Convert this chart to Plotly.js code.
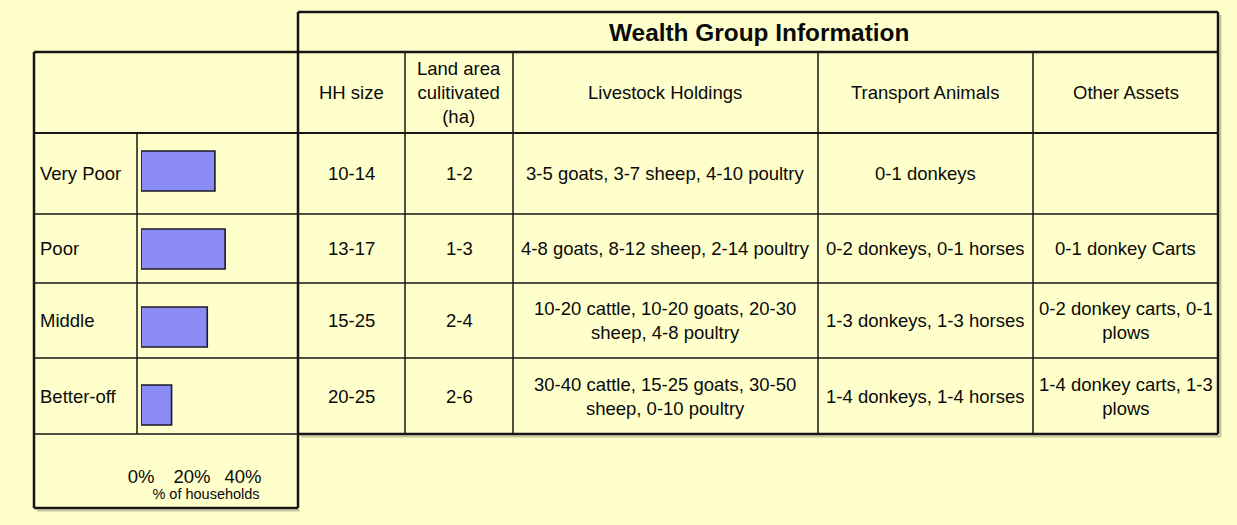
<!DOCTYPE html>
<html>
<head>
<meta charset="utf-8">
<script src="https://cdn.plot.ly/plotly-3.0.1.min.js"></script>
<style>html,body{margin:0;padding:0;background:#FFFFCC;}</style>
</head>
<body>
<div id="chart" style="width:1237px;height:525px;"></div>
<script>
// ---- data ----
const groups = ['Very Poor', 'Poor', 'Middle', 'Better-off'];
const pctHouseholds = [29, 33, 26, 12];
const xTicks = [0, 20, 40];
const xTickText = ['0%', '20%', '40%'];
const tableTitle = 'Wealth Group Information';
const headers = ['HH size', 'Land area<br>culitivated<br>(ha)', 'Livestock Holdings', 'Transport Animals', 'Other Assets'];
const hhSize = ['10-14', '13-17', '15-25', '20-25'];
const landArea = ['1-2', '1-3', '2-4', '2-6'];
const livestock = [
  '3-5 goats, 3-7 sheep, 4-10 poultry',
  '4-8 goats, 8-12 sheep, 2-14 poultry',
  '10-20 cattle, 10-20 goats, 20-30<br>sheep, 4-8 poultry',
  '30-40 cattle, 15-25 goats, 30-50<br>sheep, 0-10 poultry'
];
const transport = ['0-1 donkeys', '0-2 donkeys, 0-1 horses', '1-3 donkeys, 1-3 horses', '1-4 donkeys, 1-4 horses'];
const otherAssets = ['', '0-1 donkey Carts', '0-2 donkey carts, 0-1<br>plows', '1-4 donkey carts, 1-3<br>plows'];

// ---- layout geometry (pixels) ----
const W = 1237, H = 525;
const px = v => v / W;
const py = v => 1 - v / H;
const colEdges = [298, 405, 513, 818, 1033, 1218];
const rowEdges = [133, 214, 283, 358, 434];
const titleTop = 12, headTop = 52;
const leftL = 34, leftMid = 137, leftBottom = 508;
const ink = '#161616';
const txt = '#0a0a0a';
const FONT = 'Liberation Sans, Arial, Helvetica, sans-serif';
const FS = 18.5;

const shapes = [];
function line(x0, y0, x1, y1, w, c) {
  shapes.push({type: 'line', xref: 'paper', yref: 'paper',
    x0: px(x0), y0: py(y0), x1: px(x1), y1: py(y1),
    line: {color: c || ink, width: w}});
}
// shadows
const sh = 'rgba(0,0,0,0.22)';
line(colEdges[5] + 2.5, titleTop + 3, colEdges[5] + 2.5, rowEdges[4] + 2.5, 2, sh);
line(colEdges[0] + 3, rowEdges[4] + 2.5, colEdges[5] + 2.5, rowEdges[4] + 2.5, 2, sh);
line(leftL + 3, leftBottom + 2.5, colEdges[0] + 2, leftBottom + 2.5, 2, sh);

// right table outer border
line(colEdges[0], titleTop, colEdges[5], titleTop, 2.5);
line(colEdges[5], titleTop, colEdges[5], rowEdges[4], 2.5);
line(colEdges[0], rowEdges[4], colEdges[5], rowEdges[4], 2.5);
line(colEdges[0], titleTop, colEdges[0], leftBottom, 2.5);
// title row bottom & header bottom (spanning both tables)
line(leftL, headTop, colEdges[5], headTop, 2.5);
line(leftL, rowEdges[0], colEdges[5], rowEdges[0], 2.2);
// row separators
for (let i = 1; i < rowEdges.length - 1; i++) line(leftL, rowEdges[i], colEdges[5], rowEdges[i], 1.5);
line(leftL, rowEdges[4], colEdges[0], rowEdges[4], 1.5);
// column separators in right table
for (let i = 1; i < colEdges.length - 1; i++) line(colEdges[i], headTop, colEdges[i], rowEdges[4], 1.5);
// left table borders
line(leftL, headTop, leftL, leftBottom, 2.5);
line(leftL, leftBottom, colEdges[0], leftBottom, 2.5);
line(leftMid, rowEdges[0], leftMid, rowEdges[4], 1.5);

const annotations = [];
function label(text, x, y, size, opts) {
  annotations.push(Object.assign({
    text: text, xref: 'paper', yref: 'paper', x: px(x), y: py(y),
    xanchor: 'center', yanchor: 'middle', showarrow: false,
    font: {family: FONT, size: size, color: txt}
  }, opts || {}));
}
label('<b>' + tableTitle + '</b>', (colEdges[0] + colEdges[5]) / 2 + 1, (titleTop + headTop) / 2, 24.4);
for (let c = 0; c < headers.length; c++) {
  label(headers[c], (colEdges[c] + colEdges[c + 1]) / 2, (headTop + rowEdges[0]) / 2, FS);
}
const columns = [hhSize, landArea, livestock, transport, otherAssets];
for (let r = 0; r < groups.length; r++) {
  const yc = (rowEdges[r] + rowEdges[r + 1]) / 2;
  label(groups[r], leftL + 4, yc, FS, {xanchor: 'left'});
  for (let c = 0; c < columns.length; c++) {
    if (columns[c][r]) label(columns[c][r], (colEdges[c] + colEdges[c + 1]) / 2, yc, FS);
  }
}

const trace = {
  type: 'bar', orientation: 'h',
  y: groups, x: pctHouseholds,
  marker: {color: '#8b8bf4', line: {color: '#1a1a2a', width: 1.6}},
  hoverinfo: 'none'
};

const layout = {
  width: W, height: H, autosize: false,
  margin: {l: 0, r: 0, t: 0, b: 0, pad: 0},
  paper_bgcolor: '#FFFFCC', plot_bgcolor: 'rgba(0,0,0,0)',
  showlegend: false,
  bargap: 1 - 40 / 78,
  xaxis: {
    domain: [px(141), px(271)], range: [0, 51],
    anchor: 'free', position: py(463),
    tickmode: 'array', tickvals: xTicks, ticktext: xTickText, ticks: '',
    tickfont: {family: FONT, size: FS, color: txt},
    showgrid: false, zeroline: false, showline: false,
    title: {text: '% of households', font: {family: FONT, size: 14.5, color: txt}, standoff: 0},
    fixedrange: true
  },
  yaxis: {
    domain: [py(444), py(132)], type: 'category', autorange: 'reversed',
    showticklabels: false, ticks: '', showgrid: false, zeroline: false, showline: false,
    fixedrange: true
  },
  shapes: shapes,
  annotations: annotations
};

Plotly.newPlot('chart', [trace], layout, {displayModeBar: false, staticPlot: true});
</script>
</body>
</html>
